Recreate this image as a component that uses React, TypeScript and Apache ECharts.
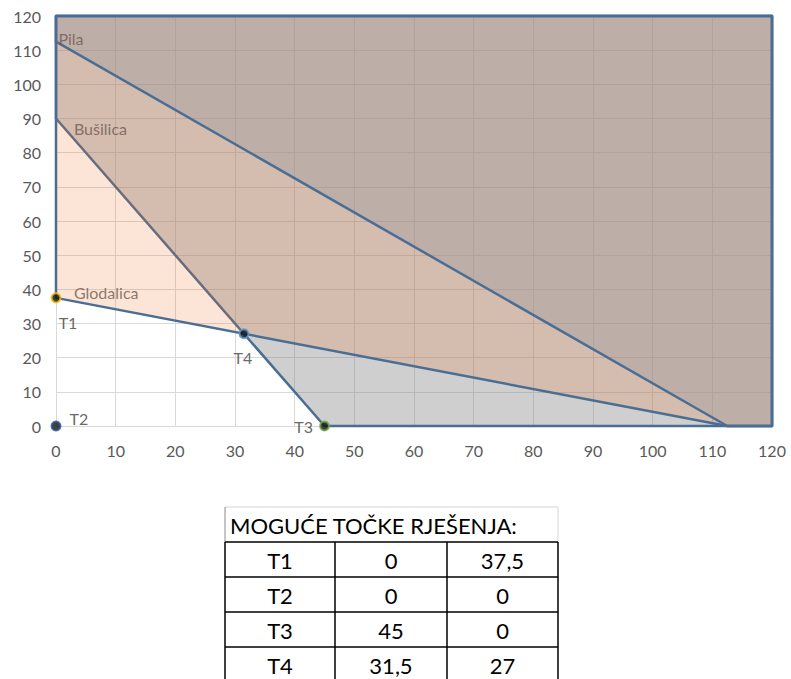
import React, { useEffect, useRef } from "react";
import * as echarts from "echarts";

// Constraint boundary polygons (feasible-excluded regions)
const glodalicaX = [0, 112.5, 120, 120, 0];
const glodalicaY = [37.5, 0, 0, 120, 120];
const busilicaX = [0, 45, 120, 120, 0];
const busilicaY = [90, 0, 0, 120, 120];
const pilaX = [0, 112.5, 120, 120, 0];
const pilaY = [112.5, 0, 0, 120, 120];

// Series name labels
const seriesNames = ["Pila", "Bušilica", "Glodalica"];
const seriesLabelX = [0.4, 3.0, 3.0];
const seriesLabelY = [113.5, 87.2, 39.2];

// Candidate solution points
const pointNames = ["T1", "T2", "T3", "T4"];
const pointX = [0, 0, 45, 31.5];
const pointY = [37.5, 0, 0, 27];

const tableTitle = "MOGUĆE TOČKE RJEŠENJA:";
const axisTicks = [0, 10, 20, 30, 40, 50, 60, 70, 80, 90, 100, 110, 120];

const FONT = "Lato, 'Noto Sans', sans-serif";

function zip(xs: number[], ys: number[]) {
  return xs.map((x, i) => [x, ys[i]]);
}

function polygonSeries(name: string, xs: number[], ys: number[], fill: string, z: number) {
  const pts = zip(xs, ys);
  return {
    type: "custom",
    name,
    z,
    data: pts,
    renderItem: (params: any, api: any) => {
      if (params.dataIndex !== 0) return null;
      const points = pts.map((p) => api.coord(p));
      return {
        type: "polygon",
        shape: { points },
        style: { fill, stroke: "#4a6e93", lineWidth: 2.5, lineJoin: "round" },
      };
    },
  };
}

export default function App() {
  const ref = useRef<HTMLDivElement>(null);
  useEffect(() => {
    if (!ref.current) return;
    const chart = echarts.init(ref.current, undefined, { renderer: "svg" });

    const ringColors = ["#ffc000", "#2f5597", "#70ad47", "#5b9bd5"];
    const labelCfg = [
      { position: "bottom", offset: [12, 6] },
      { position: "right", offset: [3, -8] },
      { position: "left", offset: [-1, 0] },
      { position: "bottom", offset: [-1, 5] },
    ];

    // Table graphics
    const tblLeft = 225;
    const colX = [225, 335, 447, 558];
    const rowY = [507, 542, 577, 612, 647, 682];
    const graphics: any[] = [];
    graphics.push({ type: "line", shape: { x1: colX[0], y1: rowY[0], x2: colX[3], y2: rowY[0] }, style: { stroke: "#d4d4d4", lineWidth: 1 } });
    graphics.push({ type: "line", shape: { x1: colX[3], y1: rowY[0], x2: colX[3], y2: rowY[1] }, style: { stroke: "#d4d4d4", lineWidth: 1 } });
    graphics.push({ type: "line", shape: { x1: colX[0], y1: rowY[0], x2: colX[0], y2: rowY[1] }, style: { stroke: "#8a8a8a", lineWidth: 1 } });
    graphics.push({
      type: "text",
      x: tblLeft + 5,
      y: (rowY[0] + rowY[1]) / 2 + 1,
      style: { text: tableTitle, font: `22px ${FONT}`, fill: "#000", verticalAlign: "middle" },
    });
    for (let r = 1; r < rowY.length; r++) {
      graphics.push({ type: "line", shape: { x1: colX[0], y1: rowY[r], x2: colX[3], y2: rowY[r] }, style: { stroke: "#000", lineWidth: 1.5 } });
    }
    for (const cx of colX) {
      graphics.push({ type: "line", shape: { x1: cx, y1: rowY[1], x2: cx, y2: rowY[5] }, style: { stroke: "#000", lineWidth: 1.5 } });
    }
    const fmt = (v: number) => String(v).replace(".", ",");
    pointNames.forEach((n, i) => {
      const cells = [n, fmt(pointX[i]), fmt(pointY[i])];
      cells.forEach((t, c) => {
        graphics.push({
          type: "text",
          x: (colX[c] + colX[c + 1]) / 2,
          y: (rowY[i + 1] + rowY[i + 2]) / 2 + 1,
          style: { text: t, font: `22px ${FONT}`, fill: "#000", align: "center", verticalAlign: "middle" },
        });
      });
    });

    chart.setOption({
      animation: false,
      grid: { left: 56, right: 19, top: 16, bottom: 253, containLabel: false },
      xAxis: {
        type: "value",
        min: axisTicks[0],
        max: axisTicks[axisTicks.length - 1],
        interval: 10,
        axisLine: { show: false },
        axisTick: { show: false },
        axisLabel: { color: "#595959", fontSize: 16, fontFamily: FONT, margin: 16 },
        splitLine: { lineStyle: { color: "#d9d9d9", width: 1 } },
      },
      yAxis: {
        type: "value",
        min: axisTicks[0],
        max: axisTicks[axisTicks.length - 1],
        interval: 10,
        axisLine: { show: false },
        axisTick: { show: false },
        axisLabel: { color: "#595959", fontSize: 16, fontFamily: FONT, margin: 15 },
        splitLine: { lineStyle: { color: "#d9d9d9", width: 1 } },
      },
      series: [
        polygonSeries("Bušilica", busilicaX, busilicaY, "rgba(128,128,128,0.38)", 2),
        polygonSeries("Glodalica", glodalicaX, glodalicaY, "rgba(238,105,27,0.18)", 3),
        polygonSeries("Pila", pilaX, pilaY, "rgba(150,150,158,0.35)", 4),
        {
          type: "scatter",
          z: 6,
          symbolSize: 0,
          data: seriesNames.map((n, i) => ({ name: n, value: [seriesLabelX[i], seriesLabelY[i]] })),
          label: {
            show: true,
            position: "right",
            distance: 0,
            formatter: (p: any) => p.name,
            color: "#6e5a50",
            fontSize: 16,
            fontFamily: FONT,
          },
        },
        {
          type: "scatter",
          z: 7,
          symbolSize: 9,
          data: pointNames.map((n, i) => ({
            name: n,
            value: [pointX[i], pointY[i]],
            itemStyle: { color: "#111", borderColor: ringColors[i], borderWidth: 2 },
            label: { show: true, ...labelCfg[i] },
          })),
          label: {
            show: true,
            formatter: (p: any) => p.name,
            color: "#404040",
            fontSize: 16,
            fontFamily: FONT,
          },
        },
      ],
      graphic: graphics,
    });
    return () => chart.dispose();
  }, []);
  return <div ref={ref} style={{ position: "absolute", left: 0, top: 0, width: 791, height: 679 }} />;
}
